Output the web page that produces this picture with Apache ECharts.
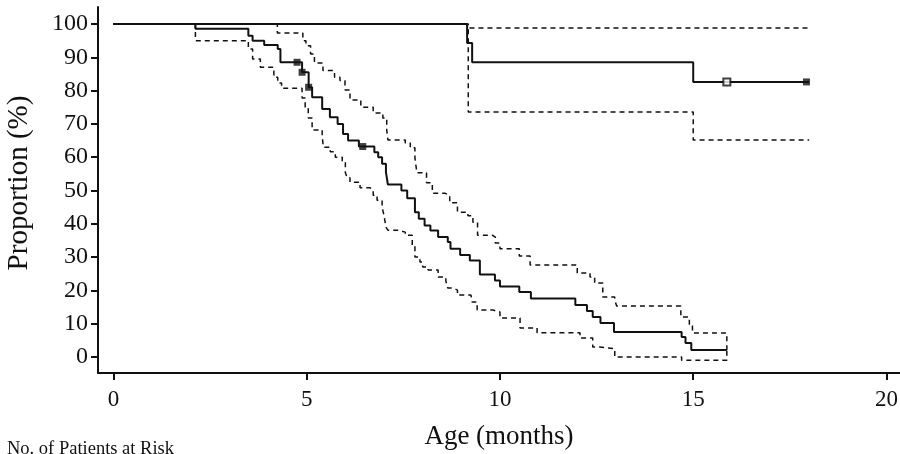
<!DOCTYPE html>
<html><head><meta charset="utf-8">
<script src="https://cdn.jsdelivr.net/npm/echarts@6/dist/echarts.min.js"></script>
<style>html,body{margin:0;padding:0;background:#fff}#c{width:900px;height:454px}</style>
</head><body><div id="c"></div>
<script>
// Tick labels
const xTicks = [0, 5, 10, 15, 20];
const yTicks = [0, 10, 20, 30, 40, 50, 60, 70, 80, 90, 100];

// Group A (declining curve): Kaplan-Meier estimate, step times (months) and values (%)
const mainT = [0, 2.12, 3.49, 3.6, 3.9, 4.25, 4.32, 4.88, 5.05, 5.14, 5.4, 5.6, 5.8, 5.94, 6.07, 6.35, 6.75, 6.85, 6.95, 7.05, 7.1, 7.45, 7.6, 7.8, 7.9, 8.05, 8.2, 8.4, 8.65, 8.72, 8.97, 9.22, 9.48, 9.87, 10.0, 10.5, 10.8, 11.95, 12.25, 12.4, 12.6, 12.95, 14.7, 14.8, 14.95, 15.87];
const mainV = [100, 98.6, 96.5, 95, 93.7, 92.5, 88.5, 85.5, 81, 78, 74.5, 72, 70, 67, 65, 63.2, 61.5, 60, 58, 55.5, 51.8, 50, 47.7, 43.5, 41.5, 39.5, 38, 36, 34.5, 32.5, 30.6, 29, 24.8, 23, 21.2, 19.5, 17.6, 15.6, 13.8, 12, 10.2, 7.5, 6, 4.2, 2.1, 2.1];
// Group A upper 95% CI
const upperT = [0, 4.24, 4.9, 4.98, 5.1, 5.2, 5.42, 5.72, 5.86, 5.99, 6.12, 6.4, 6.72, 6.97, 7.07, 7.1, 7.55, 7.68, 7.8, 7.85, 8.1, 8.25, 8.57, 8.7, 8.9, 9.17, 9.3, 9.42, 9.8, 9.88, 10.0, 10.5, 10.78, 12.0, 12.33, 12.45, 12.66, 12.97, 13.02, 14.68, 14.9, 14.98, 15.87, 15.87];
const upperV = [100, 97.3, 95, 93.5, 91, 88.3, 86, 84, 83, 80.2, 77.2, 75, 73.3, 71.8, 68.2, 65.2, 64.3, 62.8, 59.8, 55.3, 52.3, 49.2, 48.6, 46.3, 43.5, 42.4, 40.5, 36.6, 36, 34.2, 32.5, 30.3, 27.6, 25.2, 24, 22.2, 18, 17.1, 15.3, 12, 9.6, 7.2, 7.2, 2.1];
// Group A lower 95% CI
const lowerT = [0, 2.12, 3.49, 3.6, 3.8, 4.15, 4.25, 4.35, 4.88, 4.96, 5.04, 5.14, 5.4, 5.43, 5.61, 5.74, 5.92, 6.0, 6.05, 6.12, 6.38, 6.64, 6.72, 6.82, 6.95, 7.0, 7.05, 7.1, 7.36, 7.55, 7.73, 7.8, 7.93, 8.0, 8.14, 8.4, 8.6, 8.65, 8.79, 8.9, 9.25, 9.28, 9.41, 9.82, 10.0, 10.52, 10.96, 12.07, 12.4, 12.58, 12.97, 14.7, 15.87, 15.87];
const lowerV = [100, 95, 92.5, 89.5, 87, 84, 82.3, 80.7, 77.8, 75, 71.8, 68.2, 66.7, 63, 61.6, 60, 58.3, 55.3, 53.8, 52.5, 50.8, 50.2, 48.6, 47.1, 45, 42.5, 39, 38.1, 37.5, 36.6, 33.6, 30, 28.5, 27, 26.1, 24, 22.8, 20.7, 20.1, 18.6, 18, 16.5, 14.1, 13.5, 11.7, 8.7, 7.3, 5.7, 3, 2.5, 0, -1, -1, 2.1];
// Group A censoring marks
const censorMainT = [4.75, 4.88, 5.05, 6.45];
const censorMainV = [88.5, 85.5, 81, 63.2];

// Group B (upper curve): estimate and 95% CI
const topT = [0, 9.15, 9.28, 15.0, 18.0];
const topV = [100, 94.3, 88.5, 82.6, 82.6];
const topUpperT = [0, 9.15, 18.05];
const topUpperV = [100, 98.8, 98.8];
const topLowerT = [0, 9.18, 15.0, 18.0];
const topLowerV = [100, 73.6, 65.2, 65.2];
const censorTopOpenT = [15.87];
const censorTopOpenV = [82.6];
const censorTopFilledT = [17.93];
const censorTopFilledV = [82.6];

const pairs = (t, v) => t.map((x, i) => [x, v[i]]);
const serif = 'Liberation Serif';
const ink = '#111';

function stepSeries(t, v, dashed, width) {
  return {
    type: 'line', step: 'end', data: pairs(t, v), showSymbol: false, silent: true,
    lineStyle: { color: ink, width: width, type: dashed ? [5, 4] : 'solid' },
    z: dashed ? 2 : 3
  };
}

const chart = echarts.init(document.getElementById('c'), null, { renderer: 'canvas' });
chart.setOption({
  animation: false,
  backgroundColor: '#fff',
  grid: { left: 98, right: 0, top: 7, bottom: 81, containLabel: false, outerBoundsMode: 'none' },
  title: {
    text: 'No. of Patients at Risk', left: 2, top: 435,
    textStyle: { fontFamily: serif, fontSize: 18.5, fontWeight: 'normal', color: ink }
  },
  xAxis: {
    type: 'value', min: -0.4, max: 20.35,
    name: 'Age (months)', nameLocation: 'middle', nameGap: 50,
    nameTextStyle: { fontFamily: serif, fontSize: 27, color: ink },
    axisLine: { show: true, onZero: false, lineStyle: { color: ink, width: 2 } },
    axisTick: { show: true, customValues: xTicks, length: 7, lineStyle: { color: ink, width: 2 } },
    axisLabel: { customValues: xTicks, margin: 15, fontFamily: serif, fontSize: 23, color: ink },
    splitLine: { show: false }
  },
  yAxis: {
    type: 'value', min: -4.8, max: 105.1,
    name: 'Proportion (%)', nameLocation: 'middle', nameGap: 64,
    nameTextStyle: { fontFamily: serif, fontSize: 29, color: ink, padding: [0, 0, 0, 14] },
    axisLine: { show: true, onZero: false, lineStyle: { color: ink, width: 2 } },
    axisTick: { show: true, customValues: yTicks, length: 7, lineStyle: { color: ink, width: 2 } },
    axisLabel: { customValues: yTicks, margin: 10, fontFamily: serif, fontSize: 24, color: ink },
    splitLine: { show: false }
  },
  series: [
    stepSeries(upperT, upperV, true, 1.5),
    stepSeries(lowerT, lowerV, true, 1.5),
    stepSeries(mainT, mainV, false, 2),
    stepSeries(topUpperT, topUpperV, true, 1.5),
    stepSeries(topLowerT, topLowerV, true, 1.5),
    stepSeries(topT, topV, false, 2),
    { type: 'scatter', data: pairs(censorMainT, censorMainV), symbol: 'rect', symbolSize: 7, itemStyle: { color: ink }, z: 5, silent: true },
    { type: 'scatter', data: pairs(censorTopOpenT, censorTopOpenV), symbol: 'emptyRect', symbolSize: 7, itemStyle: { color: ink, borderColor: ink, borderWidth: 1.5 }, z: 5, silent: true },
    { type: 'scatter', data: pairs(censorTopFilledT, censorTopFilledV), symbol: 'rect', symbolSize: 7, itemStyle: { color: ink }, z: 5, silent: true }
  ]
});
</script>
</body></html>
